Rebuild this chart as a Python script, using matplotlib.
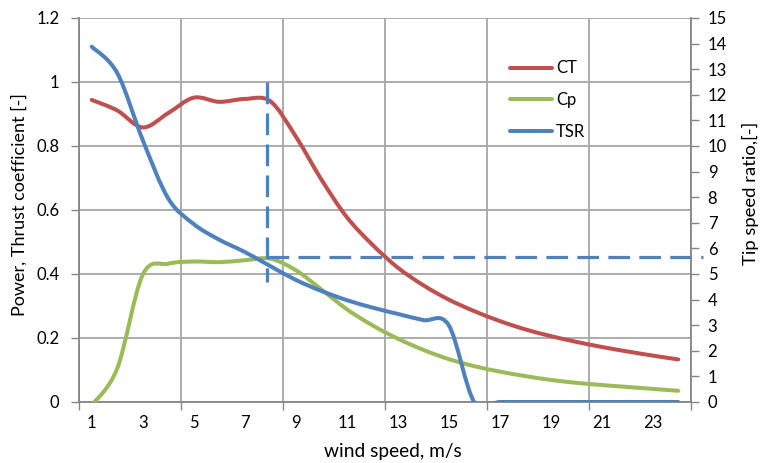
import numpy as np
import matplotlib
matplotlib.use("Agg")
import matplotlib.pyplot as plt
from matplotlib.path import Path
from matplotlib.patches import PathPatch
from matplotlib.lines import Line2D

plt.rcParams['font.family'] = ['Lato', 'DejaVu Sans']

# wind speed categories, m/s
wind_speed = np.arange(1, 25)

# thrust coefficient (left axis)
ct = [0.944, 0.911, 0.858, 0.903, 0.951, 0.938, 0.947, 0.940, 0.830, 0.696,
      0.578, 0.492, 0.420, 0.365, 0.320, 0.284, 0.253, 0.227, 0.206, 0.188,
      0.172, 0.158, 0.145, 0.133]

# power coefficient (left axis)
cp = [-0.010, 0.105, 0.398, 0.432, 0.439, 0.437, 0.443, 0.448, 0.412, 0.352,
      0.290, 0.240, 0.198, 0.163, 0.134, 0.112, 0.095, 0.081, 0.069, 0.060,
      0.053, 0.047, 0.041, 0.035]

# tip speed ratio (right axis)
tsr = [13.88, 12.85, 10.23, 7.95, 6.95, 6.34, 5.86, 5.31, 4.77, 4.34,
       3.98, 3.69, 3.44, 3.20, 3.00, 0.0, 0.0, 0.0, 0.0, 0.0,
       0.0, 0.0, 0.0, 0.0]

# rated point marked with dashed guide lines
rated_speed = 7.88
rated_level = 0.454
guide_top = 1.0
guide_bottom = 0.375

RED = '#C0504D'
GREEN = '#9BBB59'
BLUE = '#4F81BD'
GRID = '#A6A6A6'
AXIS = '#868686'


def smooth_path(x, y):
    """Bezier path through the points, Excel-style smoothed line."""
    pts = np.column_stack([x, y]).astype(float)
    n = len(pts)
    verts = [pts[0]]
    codes = [Path.MOVETO]
    for i in range(n - 1):
        prev = pts[i - 1] if i > 0 else pts[i]
        nxt = pts[i + 2] if i + 2 < n else pts[i + 1]
        c1 = pts[i] + (pts[i + 1] - prev) / 6.0
        c2 = pts[i + 1] - (nxt - pts[i]) / 6.0
        verts += [c1, c2, pts[i + 1]]
        codes += [Path.CURVE4] * 3
    return Path(verts, codes)


def add_curve(axis, x, y, color):
    patch = PathPatch(smooth_path(x, y), fill=False, edgecolor=color,
                      lw=2.9, capstyle='round', joinstyle='round', zorder=3)
    axis.add_patch(patch)


fig = plt.figure(figsize=(7.6, 4.63), dpi=100)
ax = fig.add_axes([79 / 760, 61 / 463, 612 / 760, 384 / 463])
ax2 = ax.twinx()

ax.set_xlim(0.5, 24.5)
ax.set_ylim(0, 1.2)
ax2.set_ylim(0, 15)

add_curve(ax, wind_speed, ct, RED)
add_curve(ax, wind_speed, cp, GREEN)
add_curve(ax2, wind_speed, tsr, BLUE)

# dashed guides at the rated point
dash = dict(color=BLUE, lw=2.3, dashes=(6.8, 2.9), zorder=4)
ax.plot([rated_speed, rated_speed], [guide_top, guide_bottom], **dash)
ax.plot([rated_speed, 24.97], [rated_level, rated_level], clip_on=False, **dash)

# x axis: labels on odd speeds, tick marks and grid every 4 categories
ax.set_xticks(wind_speed[::2])
ax.set_xticklabels([str(v) for v in wind_speed[::2]])
ax.set_xticks(np.arange(0.5, 25, 4), minor=True)
ax.tick_params(axis='x', which='major', length=0, pad=9, labelsize=12)
ax.tick_params(axis='x', which='minor', length=6, width=1, color=AXIS)
ax.grid(True, axis='x', which='minor', color=GRID, lw=1.3)

yt = np.round(np.arange(0, 1.21, 0.2), 1)
ax.set_yticks(yt)
ax.set_yticklabels([('%g' % v) for v in yt])
ax.tick_params(axis='y', length=6, width=1, color=AXIS, pad=8, labelsize=12)
ax.grid(True, axis='y', color=GRID, lw=1.3)
ax.set_axisbelow(True)

ax2.set_yticks(np.arange(0, 16))
ax2.tick_params(axis='y', length=6, width=1, color=AXIS, pad=6, labelsize=12)

for s in ('top', 'right'):
    ax.spines[s].set_visible(False)
for s in ('top', 'left', 'bottom'):
    ax2.spines[s].set_visible(False)
ax.spines['left'].set_color(AXIS)
ax.spines['bottom'].set_color(AXIS)
ax2.spines['right'].set_color(AXIS)
for s in (ax.spines['left'], ax.spines['bottom'], ax2.spines['right']):
    s.set_linewidth(1.3)

fig.text(393 / 760, 1 - 452 / 463, 'wind speed, m/s', ha='center', va='center',
         fontsize=13.8)
fig.text(19 / 760, 1 - 205 / 463, 'Power, Thrust coefficient [-]', ha='center',
         va='center', rotation=90, fontsize=13)
fig.text(750 / 760, 1 - 193 / 463, 'Tip speed ratio,[-]', ha='center',
         va='center', rotation=90, fontsize=13.3)

handles = [Line2D([], [], color=RED, lw=2.9, solid_capstyle='round'),
           Line2D([], [], color=GREEN, lw=2.9, solid_capstyle='round'),
           Line2D([], [], color=BLUE, lw=2.9, solid_capstyle='round')]
ax2.legend(handles, ['CT', 'Cp', 'TSR'], loc='upper left',
           bbox_to_anchor=(502 / 760, 1 - 52 / 463),
           bbox_transform=fig.transFigure, frameon=False, fontsize=12,
           handlelength=2.5, handletextpad=0.25, labelspacing=0.95,
           borderpad=0)

fig.savefig('out.png', dpi=100)
